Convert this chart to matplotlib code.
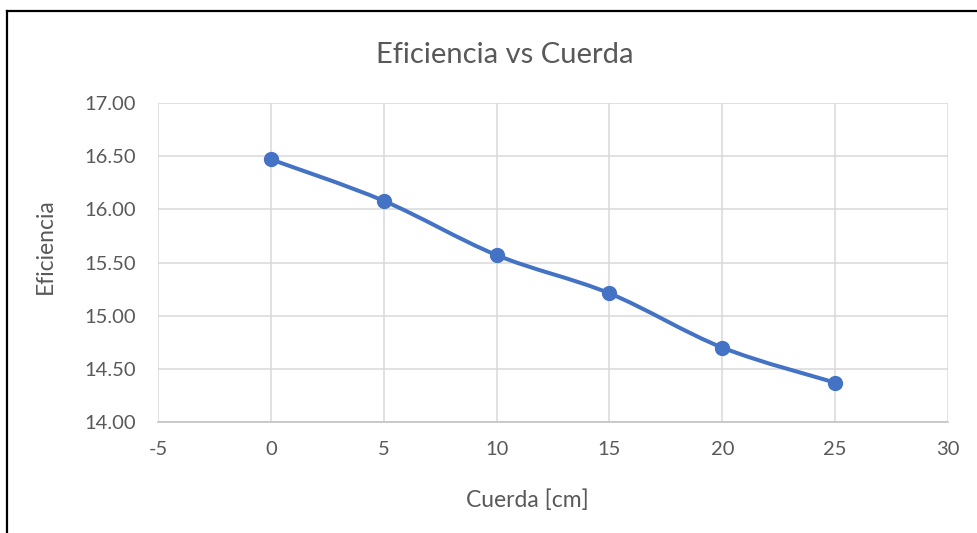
import numpy as np
import matplotlib.pyplot as plt
from matplotlib.path import Path
from matplotlib.patches import PathPatch
from matplotlib.lines import Line2D

# Eficiencia medida para cada longitud de cuerda
cuerda = [0, 5, 10, 15, 20, 25]
eficiencia = [16.47, 16.08, 15.57, 15.21, 14.70, 14.37]

xticks = [-5, 0, 5, 10, 15, 20, 25, 30]
yticks = [14.0, 14.5, 15.0, 15.5, 16.0, 16.5, 17.0]

azul = '#4472C4'
gris_txt = '#595959'
plt.rcParams['font.family'] = ['Lato', 'DejaVu Sans']
plt.rcParams['axes.unicode_minus'] = False

W, H = 978, 533
fig = plt.figure(figsize=(W / 100, H / 100), dpi=100)
ax = fig.add_axes([158 / W, 1 - 422 / H, (948 - 158) / W, (422 - 103) / H])


def curva_suave(x, y):
    # Bezier cubica tipo Catmull-Rom a traves de los puntos
    x = np.asarray(x, float)
    y = np.asarray(y, float)
    verts = [(x[0], y[0])]
    codes = [Path.MOVETO]
    n = len(x)
    for i in range(n - 1):
        i0 = max(i - 1, 0)
        i3 = min(i + 2, n - 1)
        c1 = (x[i] + (x[i + 1] - x[i0]) / 6, y[i] + (y[i + 1] - y[i0]) / 6)
        c2 = (x[i + 1] - (x[i3] - x[i]) / 6, y[i + 1] - (y[i3] - y[i]) / 6)
        verts += [c1, c2, (x[i + 1], y[i + 1])]
        codes += [Path.CURVE4] * 3
    return Path(verts, codes)


ax.add_patch(PathPatch(curva_suave(cuerda, eficiencia), facecolor='none',
                       edgecolor=azul, lw=2.9, capstyle='round', zorder=3))
ax.plot(cuerda, eficiencia, 'o', color=azul, markersize=10, zorder=4)

ax.set_xlim(-5, 30)
ax.set_ylim(14, 17)
ax.set_xticks(xticks)
ax.set_yticks(yticks)
ax.set_yticklabels([f'{v:.2f}' for v in yticks])
ax.grid(True, color='#D9D9D9', lw=1.1)
ax.set_axisbelow(True)
for s in ['top', 'right', 'left']:
    ax.spines[s].set_visible(False)
ax.spines['bottom'].set_color('#BFBFBF')
ax.spines['bottom'].set_linewidth(1.1)
ax.tick_params(length=0, labelsize=14.5, colors=gris_txt)
ax.tick_params(axis='x', pad=14)
ax.tick_params(axis='y', pad=16)

ax.set_xlabel('Cuerda [cm]', fontsize=16.5, color=gris_txt, va='center')
ax.xaxis.set_label_coords((527 - 158) / 790, (422 - 500) / 319)
ax.set_ylabel('Eficiencia', fontsize=16.5, color=gris_txt, va='center')
ax.yaxis.set_label_coords((45 - 158) / 790, (422 - 246) / 319)
fig.text(505 / W, 1 - 55 / H, 'Eficiencia vs Cuerda', fontsize=21,
         color=gris_txt, ha='center', va='center')

# marco del grafico (solo borde superior e izquierdo visibles)
fig.add_artist(Line2D([7 / W, 1], [1 - 10.5 / H] * 2, color='black', lw=1.6,
                      transform=fig.transFigure))
fig.add_artist(Line2D([7 / W] * 2, [0, 1 - 10.5 / H], color='black', lw=1.6,
                      transform=fig.transFigure))

fig.savefig('out.png', dpi=100)
